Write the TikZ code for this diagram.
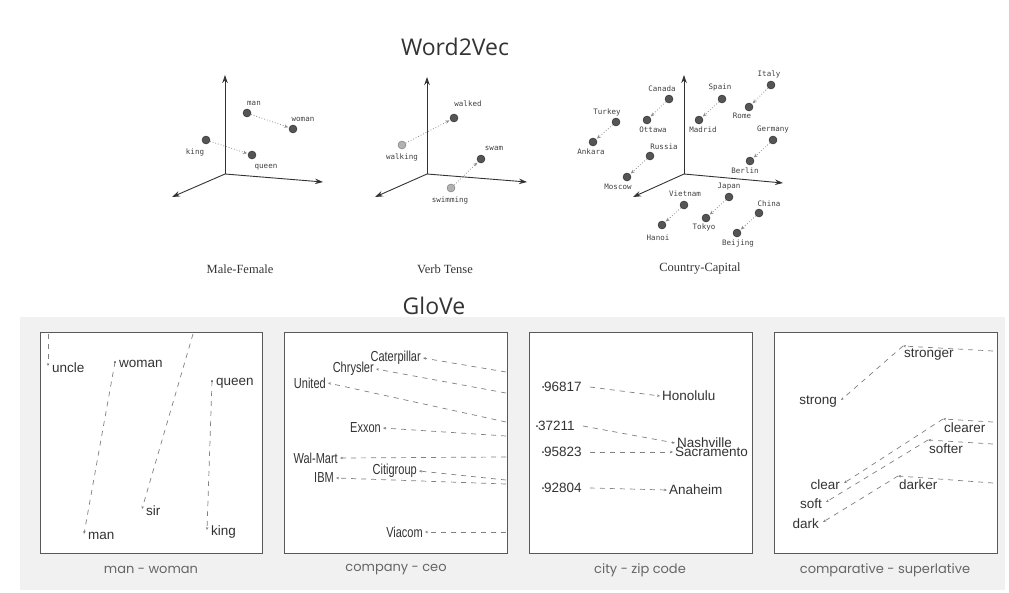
\documentclass[tikz,border=0pt]{standalone}
\usepackage{fontspec}
\setmainfont{Liberation Serif}
\newfontfamily\titlefont{Open Sans}
\newfontfamily\monofont{DejaVu Sans Mono}
\newfontfamily\labelfont{Liberation Sans}
\newfontfamily\narrowfont[FakeStretch=0.76]{Liberation Sans}
\newfontfamily\capfont{Poppins}
\usetikzlibrary{arrows.meta}
\definecolor{panelbg}{HTML}{F1F1F1}
\definecolor{dotgray}{HTML}{555555}
\definecolor{inkgray}{HTML}{333333}
\tikzset{
  vec/.style = {fill=dotgray, draw=black!85, circle, inner sep=0, minimum size=8},
  vecl/.style = {fill=black!30, draw=black!55, circle, inner sep=0, minimum size=8},
  axis/.style = {draw=black!80, line width=0.9, -{Stealth[length=8, width=5.5]}},
  offset/.style = {draw=black!45, dotted, line width=0.8, shorten >=1, -{Stealth[length=4, width=3.5]}},
  mono/.style = {font=\monofont\fontsize{7.5}{9}\selectfont, text=black!75, inner sep=0},
  capt/.style = {font=\fontsize{12.5}{14}\selectfont, text=inkgray},
  title/.style = {font=\titlefont\fontsize{23}{26}\selectfont, text=inkgray},
  panel/.style = {draw=black!65, fill=white, line width=0.8},
  glabel/.style = {font=\labelfont\fontsize{13.5}{15}\selectfont, text=inkgray, inner sep=0},
  nlabel/.style = {font=\narrowfont\fontsize{14.5}{16}\selectfont, text=inkgray, inner sep=0},
  glove/.style = {draw=black!50, dash pattern=on 5 off 5, line width=0.7, -{Stealth[length=3, width=2.5]}},
  gcap/.style = {font=\capfont\fontsize{13}{15}\selectfont, text=black!60},
  pt/.style = {fill=inkgray, circle, inner sep=0, minimum size=2}
}

\begin{document}
\begin{tikzpicture}[x=1pt, y=-1pt]
    \useasboundingbox (0,0) rectangle (1009,592);

    % Word2Vec
    \node [title] (w2v) at (455,47) {Word2Vec};

    \coordinate (o1) at (225,174);
    \draw [axis] (o1) -- ++(0,-99);
    \draw [axis] (o1) -- (323,182);
    \draw [axis] (o1) -- (172,197);
    \node [vec] (man) at (247,113) {};
    \node [vec] (woman) at (293,129) {};
    \node [vec] (king) at (206,140) {};
    \node [vec] (queen) at (252,155) {};
    \node [mono] (man-l) at (254,103) {man};
    \node [mono] (woman-l) at (303,119) {woman};
    \node [mono] (king-l) at (195,152) {king};
    \node [mono] (queen-l) at (266,167) {queen};
    \draw [offset] (man) -- (woman);
    \draw [offset] (king) -- (queen);
    \node [capt] (mf) at (240,269) {Male-Female};

    \coordinate (o2) at (427,174);
    \draw [axis] (o2) -- ++(0,-97);
    \draw [axis] (o2) -- (527,182);
    \draw [axis] (o2) -- (375,197);
    \node [vec] (walked) at (454,118) {};
    \node [vecl] (walking) at (402,145) {};
    \node [vec] (swam) at (481,159) {};
    \node [vecl] (swimming) at (451,188) {};
    \node [mono] (walked-l) at (468,104) {walked};
    \node [mono] (walking-l) at (402,157) {walking};
    \node [mono] (swam-l) at (494,148) {swam};
    \node [mono] (swimming-l) at (450,200) {swimming};
    \draw [offset] (walking) -- (walked);
    \draw [offset] (swimming) -- (swam);
    \node [capt] (vt) at (445,269) {Verb Tense};

    \coordinate (o3) at (684,174);
    \draw [axis] (o3) -- ++(0,-99);
    \draw [axis] (o3) -- (783,183);
    \draw [axis] (o3) -- (633,197);
    \foreach \a/\ax/\ay/\alx/\aly/\b/\bx/\by/\blx/\bly in {
        Italy/771/85/769/74/Rome/749/107/742/116,
        Spain/722/99/720/87/Madrid/699/120/703/130,
        Canada/669/99/662/89/Ottawa/647/120/653/130,
        Turkey/616/122/607/112/Ankara/593/142/591/152,
        Russia/650/156/664/147/Moscow/627/177/618/187,
        Germany/773/140/773/129/Berlin/750/161/745/171,
        Vietnam/684/205/685/194/Hanoi/662/225/658/238,
        Japan/729/197/729/187/Tokyo/706/218/704/227,
        China/759/213/769/204/Beijing/737/233/738/243} {
      \node [vec] (\a) at (\ax,\ay) {};
      \node [vec] (\b) at (\bx,\by) {};
      \node [mono] (\a-l) at (\alx,\aly) {\a};
      \node [mono] (\b-l) at (\blx,\bly) {\b};
      \draw [offset] (\a) -- (\b);
    }
    \node [capt] (cc) at (700,269) {Country-Capital};

    % GloVe
    \fill [panelbg] (20,317) rectangle (1005,590);
    \node [title] (glv) at (434,306) {GloVe};

    \draw [panel] (40,332) rectangle (262,553);
    \draw [panel] (284,332) rectangle (507,553);
    \draw [panel] (529,332) rectangle (752,553);
    \draw [panel] (774,332) rectangle (997,553);

    % man - woman
    \coordinate (uncle-s) at (48,334);
    \coordinate (sir-s) at (193,334);
    \foreach \n/\px/\py in {uncle/48/366, woman/115/362, man/84/534, sir/142/509, queen/212/381, king/207/530} {
      \coordinate (g-\n) at (\px,\py);
      \node [glabel, anchor=west] (g-\n-t) at ([xshift=4, yshift=-2]g-\n) {\n};
    }
    \node [pt] at (g-woman) {};
    \node [pt] at (g-queen) {};
    \draw [glove] (uncle-s) -- (g-uncle);
    \draw [glove] (g-woman) -- (g-man);
    \draw [glove] (sir-s) -- (g-sir);
    \draw [glove] (g-queen) -- (g-king);
    \node [gcap] (c1) at (151,570) {man - woman};

    % company - ceo
    \foreach \n/\ry/\px/\py in {Caterpillar/372/423/358, Chrysler/393/376/369, United/422/328/383, Exxon/436/383/428, Wal-Mart/457/340/458, Citigroup/480/419/471, IBM/484/336/478, Viacom/532/425/532} {
      \coordinate (\n-s) at (506,\ry);
      \coordinate (\n) at (\px,\py);
      \node [nlabel, anchor=east] (\n-t) at ([xshift=-2]\n) {\n};
      \draw [glove] (\n-s) -- (\n);
    }
    \node [gcap] (c2) at (396,570) {company - ceo};

    % city - zip code
    \foreach \z/\zx/\zy/\c/\cx/\cy in {96817/543/387/Honolulu/660/396, 37211/537/426/Nashville/675/443, 95823/543/452/Sacramento/673/452, 92804/543/488/Anaheim/667/490} {
      \node [pt] (z\z) at (\zx,\zy) {};
      \node [glabel, anchor=west] (z\z-t) at ([xshift=1]z\z) {\z};
      \coordinate (\c) at (\cx,\cy);
      \node [glabel, anchor=west] (\c-t) at ([xshift=2]\c) {\c};
      \draw [glove] ([xshift=8]z\z-t.east) -- (\c);
    }
    \node [gcap] (c3) at (640,570) {city - zip code};

    % comparative - superlative
    \foreach \a/\ax/\ay/\b/\bx/\by/\ry in {strong/841/400/stronger/903/346/351, clear/844/483/clearer/943/419/422, soft/826/502/softer/928/440/444, dark/823/522/darker/898/476/483} {
      \coordinate (\a) at (\ax,\ay);
      \coordinate (\b) at (\bx,\by);
      \coordinate (\b-s) at (993,\ry);
      \node [glabel, anchor=east] (\a-t) at ([xshift=-4, yshift=-2]\a) {\a};
      \node [glabel, anchor=west] (\b-t) at ([xshift=1, yshift=-9]\b) {\b};
      \draw [glove] (\b) -- (\a);
      \draw [glove] (\b-s) -- (\b);
    }
    \node [gcap] (c4) at (885,570) {comparative - superlative};
\end{tikzpicture}
\end{document}
